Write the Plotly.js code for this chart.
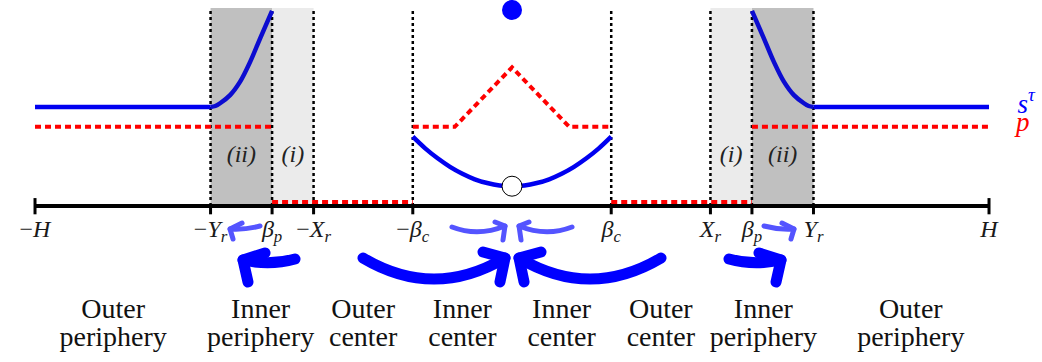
<!DOCTYPE html>
<html><head><meta charset="utf-8">
<script src="https://cdn.plot.ly/plotly-3.0.1.min.js"></script>
<style>
html,body{margin:0;padding:0;background:#fff;}
#chart{width:1042px;height:362px;}
</style>
</head><body><div id="chart"></div>
<script>
// ---- boundaries (H normalised to 10) ----
const H = 10, Yr = 6.32, betaP = 5.03, Xr = 4.16, betaC = 2.08;
const bandTop = 10;
const tickPositions = [-H, -Yr, -betaP, -Xr, -betaC, betaC, Xr, betaP, Yr, H];
const tickLabels = ['\u2212<i>H</i>', '\u2212<i>Y</i><sub><i>r</i></sub>', '<i>\u03b2</i><sub><i>p</i></sub>',
  '\u2212<i>X</i><sub><i>r</i></sub>', '\u2212<i>\u03b2</i><sub><i>c</i></sub>', '<i>\u03b2</i><sub><i>c</i></sub>',
  '<i>X</i><sub><i>r</i></sub>', '<i>\u03b2</i><sub><i>p</i></sub>', '<i>Y</i><sub><i>r</i></sub>', '<i>H</i>'];
const dottedPositions = [-Yr, -betaP, -Xr, -betaC, betaC, Xr, betaP, Yr];
const darkBands = [[-Yr, -betaP], [betaP, Yr]];
const lightBands = [[-betaP, -Xr], [Xr, betaP]];

// ---- s^tau ----
const sFlatX = [-10, -6.32, null, 6.32, 10];
const sFlatY = [5.0, 5.0, null, 5.0, 5.0];
const sPeriLeftX = [-6.32, -6.22, -6.12, -5.91, -5.70, -5.49, -5.28, -5.03];
const sPeriLeftY = [5.0, 5.05, 5.19, 5.60, 6.28, 7.28, 8.47, 9.85];
const sPeriRightX = [5.03, 5.28, 5.49, 5.70, 5.91, 6.12, 6.22, 6.32];
const sPeriRightY = [9.85, 8.47, 7.28, 6.28, 5.60, 5.19, 5.05, 5.0];
const sCenterX = [-2.08, -1.82, -1.56, -1.3, -1.04, -0.78, -0.52, -0.26, 0, 0.26, 0.52, 0.78, 1.04, 1.3, 1.56, 1.82, 2.08];
const sCenterY = [3.5, 2.91, 2.41, 1.98, 1.63, 1.35, 1.16, 1.04, 1.0, 1.04, 1.16, 1.35, 1.63, 1.98, 2.41, 2.91, 3.5];

// ---- p ----
const pX = [-10, -5.03, null, -5.03, -2.08, null, -2.08, -1.2, 0, 1.2, 2.08, null, 2.08, 5.03, null, 5.03, 10];
const pY = [4, 4, null, 0.2, 0.2, null, 4, 4, 7, 4, 4, null, 0.2, 0.2, null, 4, 4];

// ---- jump point at 0 ----
const jumpX = [0];
const jumpTopY = [9.9];
const jumpBottomY = [1.0];

// ---- zone and region labels ----
const zoneX = [-5.675, -4.595, 4.595, 5.675];
const zoneText = ['<i>(ii)</i>', '<i>(i)</i>', '<i>(i)</i>', '<i>(ii)</i>'];
const regionX = [-8.36, -5.27, -3.12, -1.04, 1.04, 3.12, 5.27, 8.36];
const regionLine1 = ['Outer', 'Inner', 'Outer', 'Inner', 'Inner', 'Outer', 'Inner', 'Outer'];
const regionLine2 = ['periphery', 'periphery', 'center', 'center', 'center', 'center', 'periphery', 'periphery'];

// ---- flow arrows ----
const arrowKind   = ['big', 'big', 'small', 'small', 'big', 'big', 'small', 'small'];
const arrowStartX = [-3.124, 3.124, -1.258, 1.258, -4.549, 4.549, -5.283, 5.283];
const arrowStartY = [-2.626, -2.626, -1.061, -1.061, -2.677, -2.677, -1.010, -1.010];
const arrowCtrlX  = [-1.635, 1.635, -0.713, 0.713, -5.073, 5.073, -5.597, 5.597];
const arrowCtrlY  = [-4.75, -4.75, -1.566, -1.566, -3.03, -3.03, -1.212, -1.212];
const arrowTipX   = [-0.147, 0.147, -0.147, 0.147, -5.639, 5.639, -5.912, 5.912];
const arrowTipY   = [-2.626, -2.626, -1.010, -1.010, -2.727, -2.727, -1.162, -1.162];
const barbUpX     = [-0.608, 0.608, -0.356, 0.356, -5.178, 5.178, -5.660, 5.660];
const barbUpY     = [-2.323, -2.323, -0.808, -0.808, -2.374, -2.374, -0.859, -0.859];
const barbDownX   = [-0.252, 0.252, -0.189, 0.189, -5.535, 5.535, -5.849, 5.849];
const barbDownY   = [-3.838, -3.838, -1.717, -1.717, -3.838, -3.838, -1.667, -1.667];

// ---- build ----
const SERIF = 'Liberation Serif';
const arrowStyle = {big: {color: '#0000ff', width: 11}, small: {color: '#5454ff', width: 5}};

const shapes = [];
darkBands.forEach(b => shapes.push({type: 'rect', xref: 'x', yref: 'y', x0: b[0], x1: b[1], y0: 0, y1: bandTop,
  fillcolor: '#c0c0c0', line: {width: 0}, layer: 'below'}));
lightBands.forEach(b => shapes.push({type: 'rect', xref: 'x', yref: 'y', x0: b[0], x1: b[1], y0: 0, y1: bandTop,
  fillcolor: '#ebebeb', line: {width: 0}, layer: 'below'}));
dottedPositions.forEach(x => shapes.push({type: 'line', xref: 'x', yref: 'y', x0: x, x1: x, y0: 0, y1: bandTop,
  line: {color: '#000', width: 2.5, dash: '3px,3px'}, layer: 'below'}));
shapes.push({type: 'line', xref: 'x', yref: 'y', x0: -H, x1: H, y0: 0, y1: 0, line: {color: '#000', width: 4}, layer: 'below'});
tickPositions.forEach(x => {
  const isEnd = Math.abs(x) === H;
  shapes.push({type: 'line', xref: 'x', yref: 'y', x0: x, x1: x, y0: -0.42, y1: isEnd ? 0.4 : 0,
    line: {color: '#000', width: 3}, layer: 'below'});
});
arrowKind.forEach((k, i) => {
  const st = arrowStyle[k];
  shapes.push({type: 'path', xref: 'x', yref: 'y', layer: 'above',
    path: `M ${arrowStartX[i]},${arrowStartY[i]} Q ${arrowCtrlX[i]},${arrowCtrlY[i]} ${arrowTipX[i]},${arrowTipY[i]}`,
    line: {color: st.color, width: st.width}});
  shapes.push({type: 'path', xref: 'x', yref: 'y', layer: 'above',
    path: `M ${barbUpX[i]},${barbUpY[i]} L ${arrowTipX[i]},${arrowTipY[i]} L ${barbDownX[i]},${barbDownY[i]}`,
    line: {color: st.color, width: st.width}});
});

const sColor = '#0000f0';
const traces = [
  {x: sFlatX, y: sFlatY, mode: 'lines', line: {color: sColor, width: 4.5}, connectgaps: false},
  {x: sPeriLeftX, y: sPeriLeftY, mode: 'lines', line: {color: '#0c0cd0', width: 4.5, shape: 'spline', smoothing: 1}},
  {x: sPeriRightX, y: sPeriRightY, mode: 'lines', line: {color: '#0c0cd0', width: 4.5, shape: 'spline', smoothing: 1}},
  {x: sCenterX, y: sCenterY, mode: 'lines', line: {color: sColor, width: 4.5, shape: 'spline', smoothing: 1}},
  {x: pX, y: pY, mode: 'lines', line: {color: '#ff0000', width: 4, dash: '6px,4px'}, connectgaps: false},
  {x: jumpX, y: jumpTopY, mode: 'markers', marker: {size: 20, color: '#0000ff', line: {width: 0}}},
  {x: jumpX, y: jumpBottomY, mode: 'markers', marker: {size: 20, color: '#ffffff', line: {color: '#000', width: 1}}},
  {x: tickPositions, y: tickPositions.map(() => -1.24), mode: 'text', text: tickLabels, textposition: 'middle center',
    textfont: {family: SERIF, size: 24, color: '#1a1a1a'}},
  {x: zoneX, y: zoneX.map(() => 2.53), mode: 'text', text: zoneText, textposition: 'middle center',
    textfont: {family: SERIF, size: 24, color: '#222'}},
  {x: regionX, y: regionX.map(() => -5.30), mode: 'text', text: regionLine1, textposition: 'middle center',
    textfont: {family: SERIF, size: 28, color: '#111'}},
  {x: regionX, y: regionX.map(() => -6.72), mode: 'text', text: regionLine2, textposition: 'middle center',
    textfont: {family: SERIF, size: 28, color: '#111'}},
  {x: [10.78], y: [5.05], mode: 'text', text: ['<i>s</i><sup><i>\u03c4</i></sup>'], textposition: 'middle center',
    textfont: {family: SERIF, size: 27, color: '#0000ff'}},
  {x: [10.71], y: [4.12], mode: 'text', text: ['<i>p</i>'], textposition: 'middle center',
    textfont: {family: SERIF, size: 27, color: '#ff0000'}}
];

const layout = {
  width: 1042, height: 362,
  margin: {l: 0, r: 0, t: 0, b: 0, pad: 0},
  paper_bgcolor: '#fff', plot_bgcolor: '#fff',
  font: {family: SERIF},
  showlegend: false, hovermode: false,
  xaxis: {range: [-10.734, 11.111], visible: false, fixedrange: true},
  yaxis: {range: [-7.879, 10.404], visible: false, fixedrange: true},
  shapes: shapes
};

Plotly.newPlot('chart', traces, layout, {staticPlot: true, displayModeBar: false}).then(() => {
  document.querySelectorAll('.layer-above .shapelayer path').forEach(p => {
    p.style.strokeLinecap = 'round';
    p.style.strokeLinejoin = 'round';
  });
});
</script>
</body></html>
